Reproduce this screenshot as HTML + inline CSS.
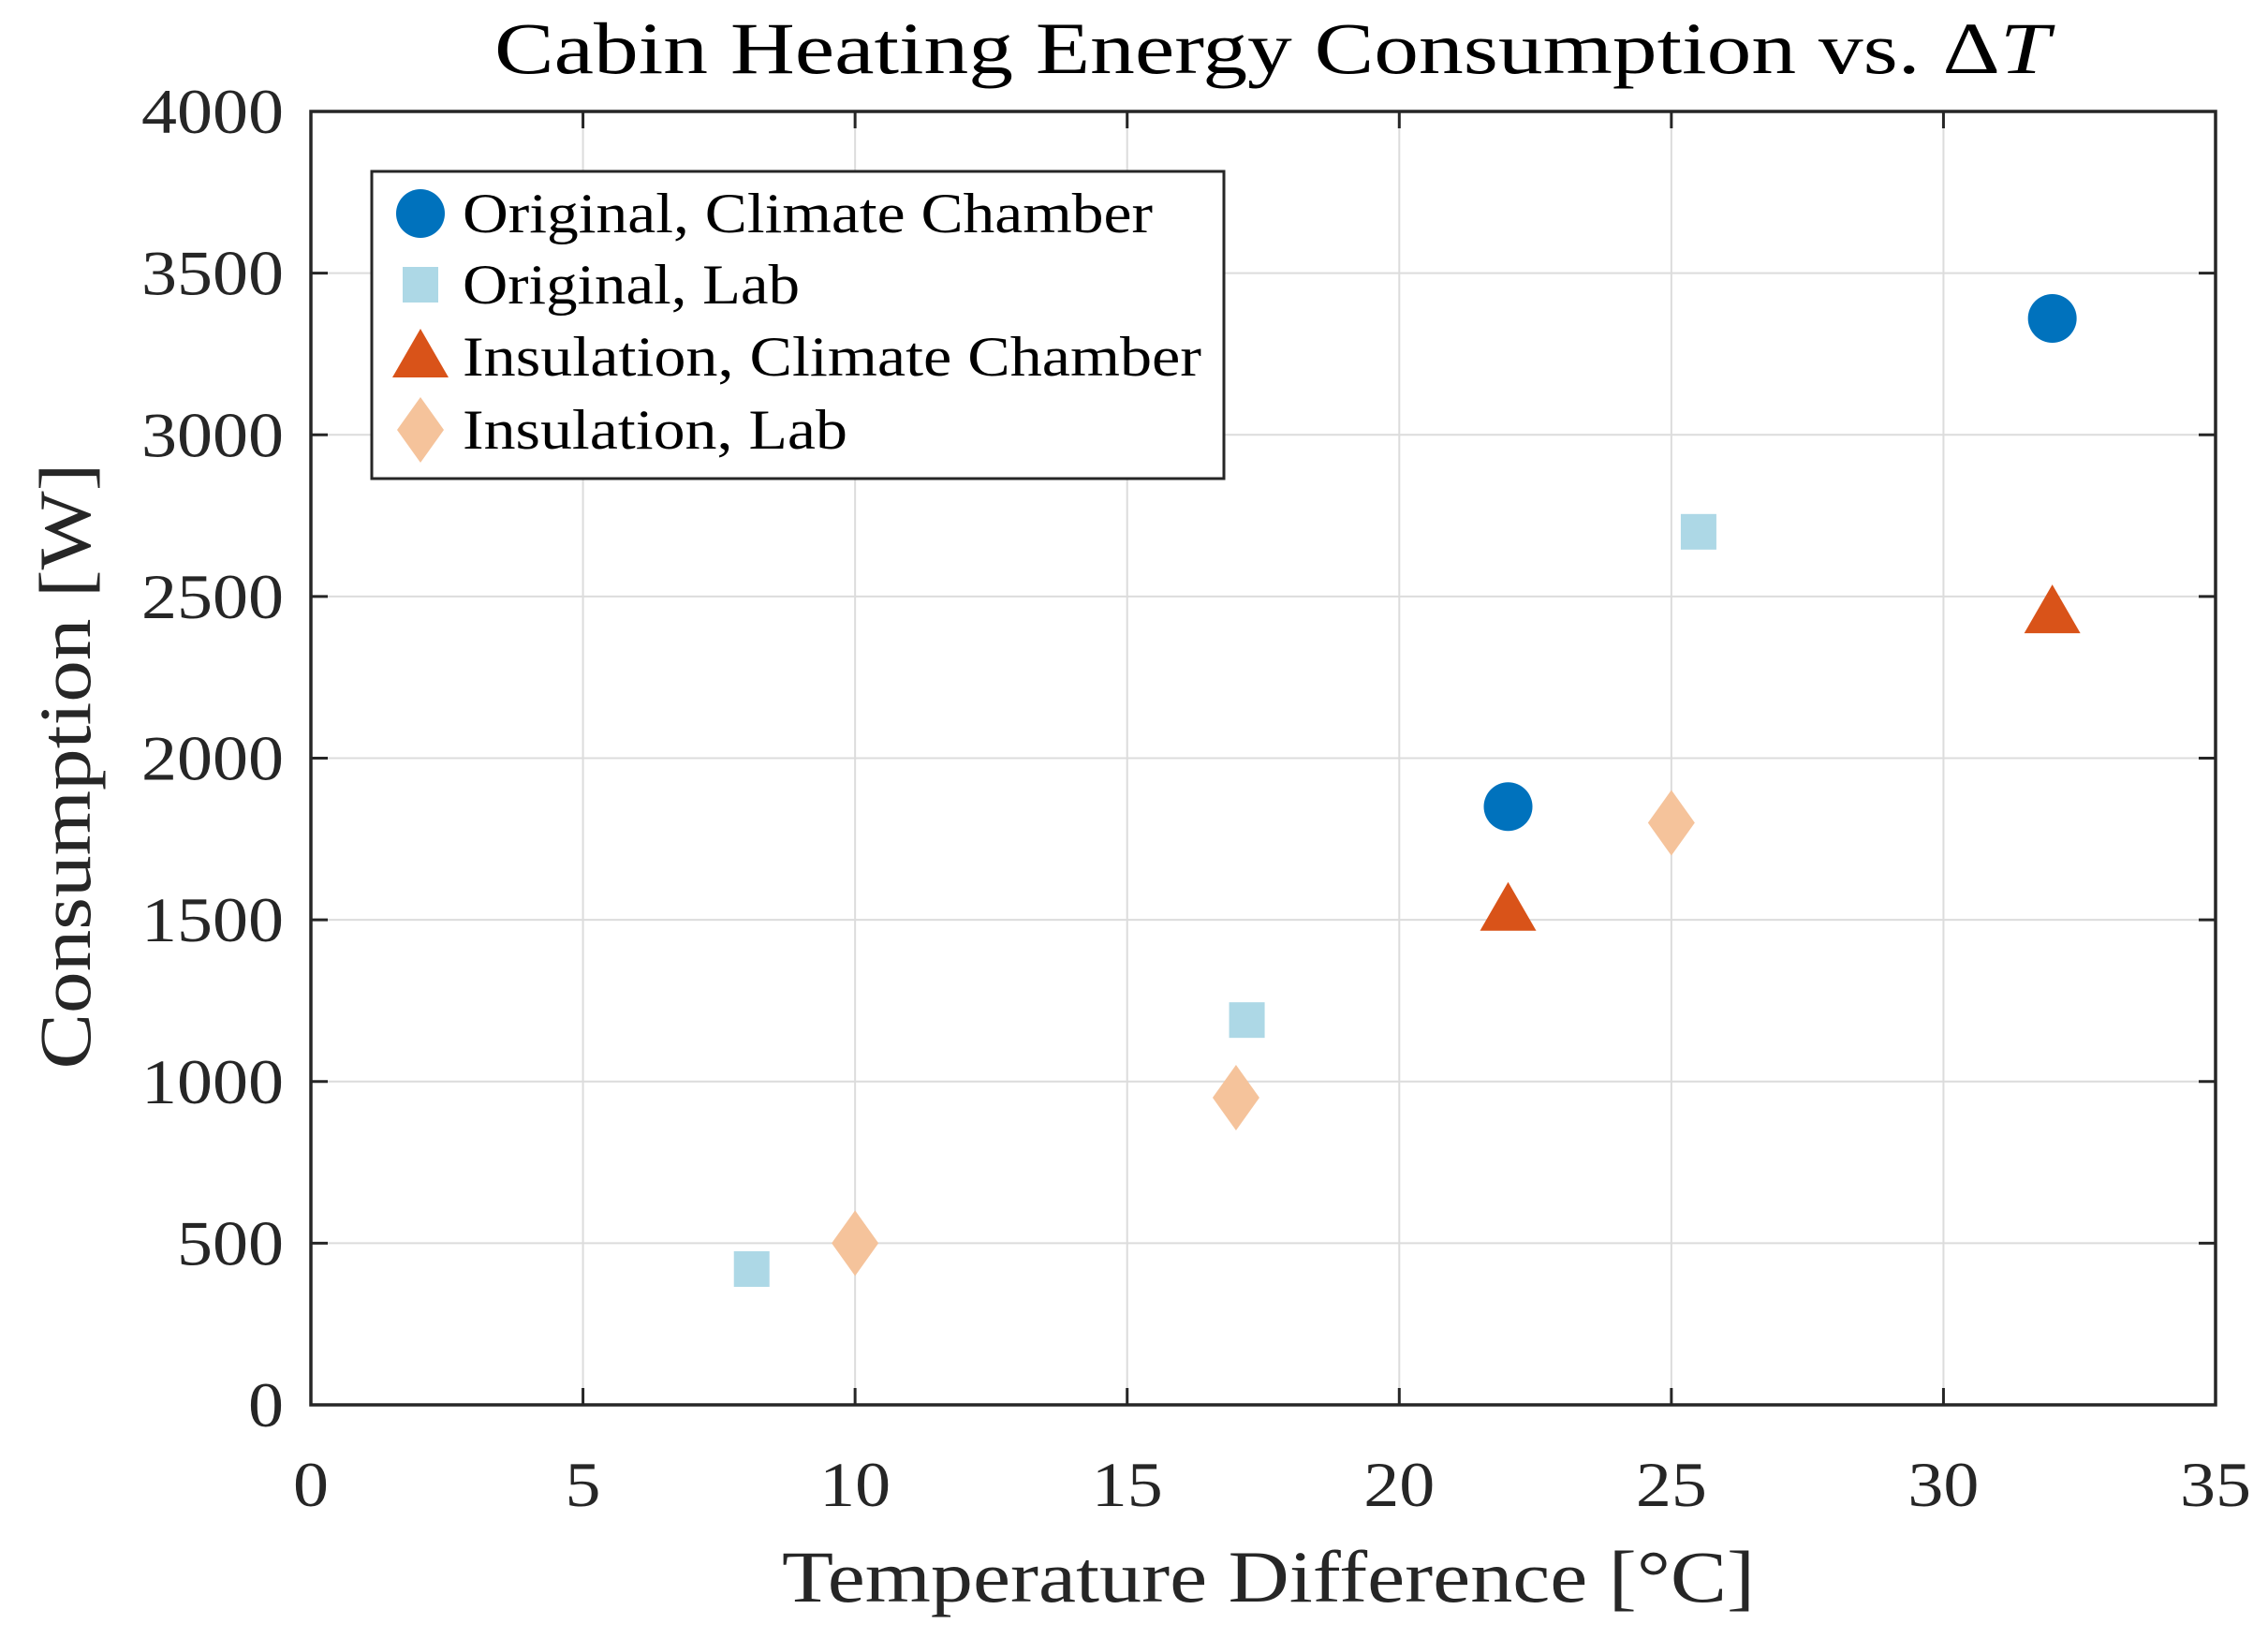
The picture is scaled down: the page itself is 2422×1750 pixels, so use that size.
<!DOCTYPE html>
<html><head><meta charset="utf-8"><style>
html,body{margin:0;padding:0;background:#fff;}
svg{display:block;font-family:"Liberation Serif","DejaVu Serif",serif;}
</style></head><body>
<svg id="chart" width="2422" height="1750" viewBox="0 0 2422 1750" xmlns="http://www.w3.org/2000/svg">
<rect width="2422" height="1750" fill="#fff"/>
<g id="grid"></g>
<g id="axes"></g>
<g id="marks"></g>
<g id="legend"></g>
</svg>
<script>
const xTicks = [0,5,10,15,20,25,30,35];
const yTicks = [0,500,1000,1500,2000,2500,3000,3500,4000];
const origCCx = [22, 32];
const origCCy = [1850, 3360];
const origLabx = [8.1, 17.2, 25.5];
const origLaby = [420, 1190, 2700];
const insCCx = [22, 32];
const insCCy = [1530, 2450];
const insLabx = [10, 17, 25];
const insLaby = [500, 950, 1800];
const seriesNames = ["Original, Climate Chamber","Original, Lab","Insulation, Climate Chamber","Insulation, Lab"];
const legendWidths = [737,360,789,411];

const L=332,R=2366,T=119,B=1500;
const xs=v=>L+(v-0)/(35-0)*(R-L);
const ys=v=>B-(v-0)/(4000-0)*(B-T);
const NS="http://www.w3.org/2000/svg";
function mk(tag,attrs,parent,txt){const e=document.createElementNS(NS,tag);for(const k in attrs)e.setAttribute(k,attrs[k]);if(txt!==undefined)e.textContent=txt;parent.appendChild(e);return e;}
const grid=document.getElementById('grid'),axes=document.getElementById('axes'),marks=document.getElementById('marks'),leg=document.getElementById('legend');

xTicks.forEach(t=>{const x=xs(t);
 if(t>0&&t<35){const g=mk('line',{x1:x,x2:x,y1:T,y2:B,stroke:'#dcdcdc','stroke-width':2},grid);
 }
 const tk=mk('line',{x1:x,x2:x,y1:B,y2:B-18,stroke:'#262626','stroke-width':3},axes);
 
 const tk2=mk('line',{x1:x,x2:x,y1:T,y2:T+18,stroke:'#262626','stroke-width':3},axes);
 
 const s=String(t);
 const lb=mk('text',{x:x,y:1608,'text-anchor':'middle','font-size':68,fill:'#262626',textLength:38*s.length,lengthAdjust:'spacingAndGlyphs'},axes,s);
 
});
yTicks.forEach(t=>{const y=ys(t);
 if(t>0&&t<4000){const g=mk('line',{x1:L,x2:R,y1:y,y2:y,stroke:'#dcdcdc','stroke-width':2},grid);
 }
 const tk=mk('line',{x1:L,x2:L+18,y1:y,y2:y,stroke:'#262626','stroke-width':3},axes);
 
 const tk2=mk('line',{x1:R,x2:R-18,y1:y,y2:y,stroke:'#262626','stroke-width':3},axes);
 
 const s=String(t);
 const lb=mk('text',{x:303,y:y+23,'text-anchor':'end','font-size':68,fill:'#262626',textLength:38*s.length,lengthAdjust:'spacingAndGlyphs'},axes,s);
 
});
const box=mk('rect',{x:L,y:T,width:R-L,height:B-T,fill:'none',stroke:'#262626','stroke-width':3.5},axes);

const tt=mk('text',{x:528,y:78,'font-size':78,fill:'#000',textLength:1661,lengthAdjust:'spacingAndGlyphs'},axes);

tt.innerHTML='Cabin Heating Energy Consumption vs. \u0394<tspan font-style="italic">T</tspan>';
const xt=mk('text',{x:835,y:1710,'font-size':78,fill:'#262626',textLength:1039,lengthAdjust:'spacingAndGlyphs'},axes,'Temperature Difference [\u00B0C]');

const yt=mk('text',{x:0,y:0,'text-anchor':'middle','font-size':78,fill:'#262626',textLength:647,lengthAdjust:'spacingAndGlyphs',transform:'translate(96,818) rotate(-90)'},axes,'Consumption [W]');


function circle(cx,cy,p){return mk('circle',{cx:cx,cy:cy,r:26,fill:'#0072bd'},p);}
function square(cx,cy,p){return mk('rect',{x:cx-19,y:cy-19,width:38,height:38,fill:'#add8e6'},p);}
function tri(cx,cy,p){return mk('polygon',{points:`${cx},${cy-30} ${cx+30},${cy+22} ${cx-30},${cy+22}`,fill:'#d95319'},p);}
function diam(cx,cy,p){return mk('polygon',{points:`${cx},${cy-35} ${cx+25},${cy} ${cx},${cy+35} ${cx-25},${cy}`,fill:'#f5c39b'},p);}

origCCx.forEach((v,i)=>{const e=circle(xs(v),ys(origCCy[i]),marks);
 });
origLabx.forEach((v,i)=>{const e=square(xs(v),ys(origLaby[i]),marks);
 });
insCCx.forEach((v,i)=>{const e=tri(xs(v),ys(insCCy[i]),marks);
 });
insLabx.forEach((v,i)=>{const e=diam(xs(v),ys(insLaby[i]),marks);
 });

const lb=mk('rect',{x:397,y:183,width:910,height:328,fill:'#fff',stroke:'#262626','stroke-width':3},leg);

const ly=[228,304,381,459];const fns=[circle,square,tri,diam];
seriesNames.forEach((n,i)=>{const m=fns[i](449,ly[i],leg);
 
 const t=mk('text',{x:494,y:ly[i]+20,'font-size':60,fill:'#000',textLength:legendWidths[i],lengthAdjust:'spacingAndGlyphs'},leg,n);
 });
</script>
</body></html>
